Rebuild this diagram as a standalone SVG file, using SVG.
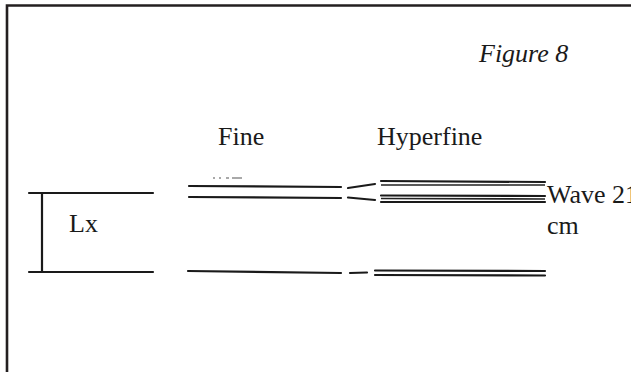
<svg xmlns="http://www.w3.org/2000/svg" width="631" height="372" viewBox="0 0 631 372">
<style>
.t{font-family:"Liberation Serif","Times New Roman",serif;font-size:26px;fill:#1a1a1a}
.l{stroke:#1a1a1a;stroke-width:2.2;fill:none;stroke-linecap:round}
.th{stroke:#222;stroke-width:1.6;fill:none}
</style>
<rect x="0" y="0" width="631" height="372" fill="#fff"/>
<path d="M7,380 V5.5 H640" stroke="#231f20" stroke-width="2.6" fill="none"/>
<g id="title"><text class="t" x="479" y="62" font-style="italic">Figure 8</text></g>
<g id="fine-label"><text class="t" x="218" y="145">Fine</text></g>
<g id="hyperfine-label"><text class="t" x="377" y="145">Hyperfine</text></g>
<g id="lx">
<line class="l" x1="29" y1="193" x2="153" y2="193"/>
<line class="l" x1="29" y1="272" x2="153" y2="272"/>
<line class="l" x1="42" y1="193" x2="42" y2="272"/>
<text class="t" x="69" y="232">Lx</text>
</g>
<g id="fine">
<line class="l" x1="189" y1="186" x2="341" y2="187"/>
<line class="l" x1="189" y1="197" x2="341" y2="198"/>
<line class="l" x1="188" y1="271" x2="341" y2="273"/>
<path d="M213,178h2M219,178h2M226,178h3M232,178h10" stroke="#555" stroke-width="1.2"/>
</g>
<g id="connectors">
<line class="l" x1="348" y1="188" x2="375" y2="184"/>
<line class="l" x1="348" y1="197.5" x2="375" y2="200"/>
<line class="l" x1="350" y1="273" x2="367" y2="272.5"/>
</g>
<g id="hyperfine">
<line class="l" x1="381" y1="181" x2="545" y2="182"/>
<line class="th" x1="381" y1="185" x2="545" y2="185"/>
<line class="l" x1="381" y1="195.5" x2="545" y2="196"/>
<line class="th" x1="381" y1="198.5" x2="545" y2="199"/>
<line class="l" x1="381" y1="202" x2="545" y2="202"/>
<line class="l" x1="375" y1="270.5" x2="545" y2="271"/>
<line class="l" x1="375" y1="275" x2="545" y2="275.5"/>
</g>
<g id="wave-label">
<text class="t" x="547" y="203">Wave 21</text>
<text class="t" x="547" y="234">cm</text>
</g>
</svg>
